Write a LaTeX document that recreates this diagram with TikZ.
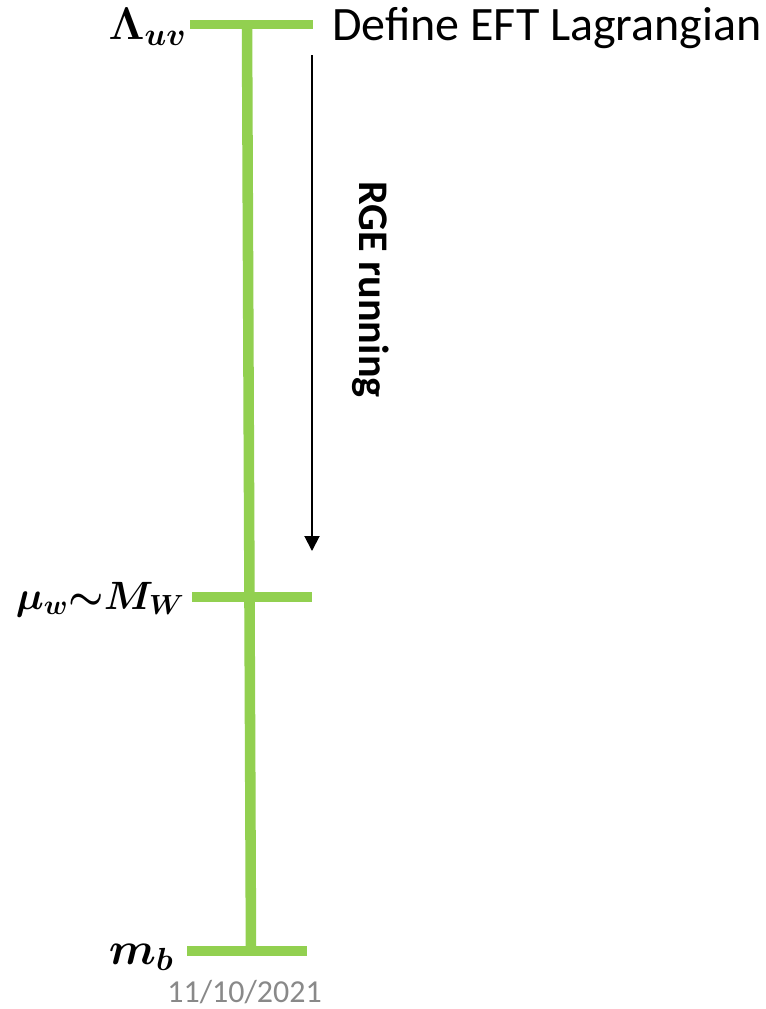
\RequirePackage{fix-cm}
\documentclass[tikz,border=0pt]{standalone}
\usepackage{amsmath,bm}
\usepackage{fontspec}
\setmainfont{Carlito}
\usetikzlibrary{arrows.meta,positioning}
\definecolor{grass}{RGB}{146,208,80}
\definecolor{ink}{RGB}{0,0,0}
\definecolor{stamp}{RGB}{137,137,137}
\tikzset{
  >={Triangle[length=3mm,width=3mm]},
  ladder/.style={draw=grass,line width=#1},
  ladder/.default=5.4pt,
  scale lbl/.style={anchor=base east,inner sep=0pt,font=\fontsize{#1}{30}\selectfont},
  scale lbl/.default=26,
  note/.style={anchor=base west,inner sep=0pt,font=\fontsize{27.3}{32}\selectfont},
  flow/.style={->,line width=1.1pt,draw=ink},
}
\begin{document}
\begin{tikzpicture}[x=0.02cm,y=-0.02cm]
  \useasboundingbox (0,0) rectangle (766,1009);
  % scale ladder
  \coordinate (uvL) at (190,24.5); \coordinate (uvR) at (313,24.5);
  \coordinate (wL) at (192,597);   \coordinate (wR) at (312,597);
  \coordinate (bL) at (187,951);   \coordinate (bR) at (307,951);
  \coordinate (top) at (247,24.5); \coordinate (bot) at (251,951);
  \draw[ladder=6pt] (top) -- (bot);
  \draw[ladder] (uvL) -- (uvR);
  \draw[ladder] (wL) -- (wR);
  \draw[ladder] (bL) -- (bR);
  % scales
  \node[scale lbl] (uv) at (187,39) {$\boldsymbol{\Lambda_{uv}}$};
  \node[scale lbl=22.5] (mw) at (185,609) {$\boldsymbol{\mu_w{\sim}M_W}$};
  \node[scale lbl] (mb) at (174,964) {$\boldsymbol{m_b}$};
  \node[note] (eft) at (332,40) {Define EFT Lagrangian};
  % running
  \coordinate (runA) at (312,55); \coordinate (runB) at (312,551);
  \draw[flow] (runA) -- (runB);
  \node[anchor=base west,inner sep=0pt,rotate=-90,font=\fontsize{24}{28}\selectfont\bfseries] (rge) at (359,181) {RGE running};
  \node[anchor=base west,inner sep=0pt,text=stamp,font=\fontsize{18.2}{21}\selectfont] (date) at (167,1002) {11/10/2021};
\end{tikzpicture}
\end{document}
